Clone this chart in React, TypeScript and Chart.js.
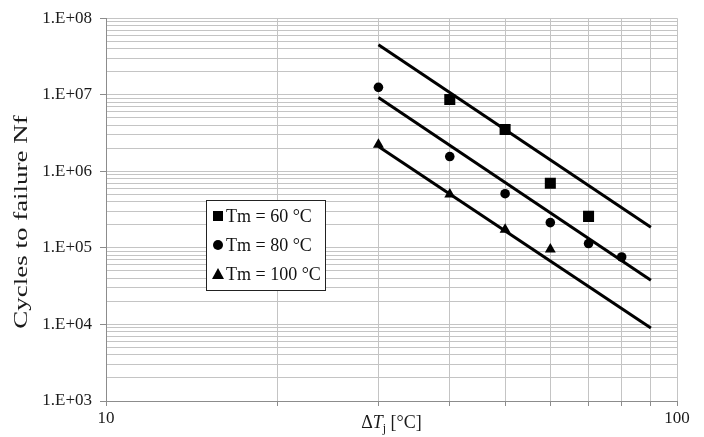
import React, { useEffect, useRef } from "react";
import { Chart, registerables } from "chart.js";

Chart.register(...registerables);

// ---- data ----
const xTickValues = [10, 20, 30, 40, 50, 60, 70, 80, 90, 100];
const xLabeledValues = [10, 100];
const xTickLabels = ["10", "100"];
const yDecades = [3, 4, 5, 6, 7, 8];
const yTickLabels = ["1.E+03", "1.E+04", "1.E+05", "1.E+06", "1.E+07", "1.E+08"];
const yMantissas = [1, 2, 3, 4, 5, 6, 7, 8, 9];
const yAxisTitle = "Cycles to failure Nf";

const seriesLabels = ["Tm = 60 °C", "Tm = 80 °C", "Tm = 100 °C"];
const tm60X = [40, 50, 60, 70];
const tm60Y = [8.65e6, 3.52e6, 7.0e5, 2.58e5];
const tm80X = [30, 40, 50, 60, 70, 80];
const tm80Y = [1.25e7, 1.56e6, 5.1e5, 2.14e5, 1.14e5, 7.6e4];
const tm100X = [30, 40, 50, 60];
const tm100Y = [2.24e6, 5.0e5, 1.73e5, 9.6e4];
const fitX = [30, 90];
const fit60Y = [4.5e7, 1.86e5];
const fit80Y = [9.2e6, 3.78e4];
const fit100Y = [2.11e6, 9.0e3];

const yTickValues: number[] = [];
yDecades.forEach((d, i) => {
  if (i === yDecades.length - 1) {
    yTickValues.push(Math.pow(10, d));
  } else {
    yMantissas.forEach((m) => yTickValues.push(m * Math.pow(10, d)));
  }
});

const pts = (xs: number[], ys: number[]) => xs.map((x, i) => ({ x, y: ys[i] }));
const isPow10 = (v: number) => yDecades.some((d) => Math.abs(Math.pow(10, d) - v) < v * 1e-6);

const SERIF = "'Liberation Serif', 'Times New Roman', serif";

const xTitlePlugin = {
  id: "xTitleCustom",
  afterDraw(chart: any) {
    const { ctx, chartArea } = chart;
    const cx = (chartArea.left + chartArea.right) / 2;
    const baseY = chartArea.bottom + 27;
    const parts = [
      { t: "Δ", f: `18px ${SERIF}`, dy: 0 },
      { t: "T", f: `italic 18px ${SERIF}`, dy: 0 },
      { t: "j", f: `12px ${SERIF}`, dy: 4 },
      { t: " [°C]", f: `18px ${SERIF}`, dy: 0 },
    ];
    ctx.save();
    ctx.fillStyle = "#1a1a1a";
    ctx.textBaseline = "alphabetic";
    ctx.textAlign = "left";
    let total = 0;
    const widths = parts.map((p) => {
      ctx.font = p.f;
      const w = ctx.measureText(p.t).width;
      total += w;
      return w;
    });
    let x = cx - total / 2;
    parts.forEach((p, i) => {
      ctx.font = p.f;
      ctx.fillText(p.t, x, baseY + p.dy);
      x += widths[i];
    });
    ctx.restore();
  },
};

const yTitlePlugin = {
  id: "yTitleCustom",
  afterDraw(chart: any) {
    const { ctx } = chart;
    ctx.save();
    ctx.translate(22, 222);
    ctx.rotate(-Math.PI / 2);
    ctx.scale(1.5, 1);
    ctx.font = `18px ${SERIF}`;
    ctx.fillStyle = "#1a1a1a";
    ctx.textAlign = "center";
    ctx.textBaseline = "middle";
    ctx.fillText(yAxisTitle, 0, 0);
    ctx.restore();
  },
};

const legendPlugin = {
  id: "boxLegend",
  afterDraw(chart: any) {
    const { ctx } = chart;
    const left = 206.5;
    const top = 200.5;
    const w = 119;
    const h = 90;
    ctx.save();
    ctx.fillStyle = "#ffffff";
    ctx.fillRect(left, top, w, h);
    ctx.strokeStyle = "#222222";
    ctx.lineWidth = 1;
    ctx.strokeRect(left, top, w, h);
    const rows = [216, 245, 274];
    const styles = ["rect", "circle", "triangle"];
    ctx.font = `18px ${SERIF}`;
    ctx.textBaseline = "middle";
    ctx.textAlign = "left";
    seriesLabels.forEach((lab, i) => {
      const y = rows[i];
      const mx = 218;
      ctx.fillStyle = "#000";
      ctx.beginPath();
      if (styles[i] === "rect") {
        ctx.rect(mx - 5, y - 5, 10, 10);
      } else if (styles[i] === "circle") {
        ctx.arc(mx, y, 5, 0, Math.PI * 2);
      } else {
        ctx.moveTo(mx, y - 6);
        ctx.lineTo(mx + 6, y + 5);
        ctx.lineTo(mx - 6, y + 5);
        ctx.closePath();
      }
      ctx.fill();
      ctx.fillStyle = "#111";
      ctx.fillText(lab, 226, y + 1);
    });
    ctx.restore();
  },
};

export default function App() {
  const ref = useRef<HTMLCanvasElement | null>(null);

  useEffect(() => {
    document.body.style.margin = "0";
    const canvas = ref.current;
    if (!canvas) return;
    const lineDs = (data: any) => ({
      type: "line" as const,
      data,
      showLine: true,
      borderColor: "#000",
      borderWidth: 3,
      pointRadius: 0,
      fill: false,
      order: 2,
    });
    const chart = new Chart(canvas, {
      type: "scatter",
      data: {
        datasets: [
          lineDs(pts(fitX, fit60Y)),
          lineDs(pts(fitX, fit80Y)),
          lineDs(pts(fitX, fit100Y)),
          {
            label: seriesLabels[0],
            data: pts(tm60X, tm60Y),
            pointStyle: "rect",
            pointRadius: 7.8,
            backgroundColor: "#000",
            borderWidth: 0,
            order: 1,
          },
          {
            label: seriesLabels[1],
            data: pts(tm80X, tm80Y),
            pointStyle: "circle",
            pointRadius: 4.8,
            backgroundColor: "#000",
            borderWidth: 0,
            order: 1,
          },
          {
            label: seriesLabels[2],
            data: pts(tm100X, tm100Y),
            pointStyle: "triangle",
            pointRadius: 6.3,
            backgroundColor: "#000",
            borderWidth: 0,
            order: 1,
          },
        ] as any,
      },
      options: {
        responsive: false,
        animation: false,
        devicePixelRatio: 1,
        layout: { padding: { left: 32, top: 17.5, right: 27, bottom: 0 } },
        plugins: {
          legend: { display: false },
          tooltip: { enabled: false },
        },
        scales: {
          x: {
            type: "logarithmic",
            min: 10,
            max: 100,
            afterBuildTicks: (scale: any) => {
              scale.ticks = xTickValues.map((v) => ({ value: v }));
            },
            afterFit: (scale: any) => {
              scale.height = 36;
            },
            ticks: {
              autoSkip: false,
              maxRotation: 0,
              padding: 2,
              color: "#1a1a1a",
              font: { family: SERIF, size: 17 },
              callback: (v: any) => {
                const i = xLabeledValues.indexOf(Number(v));
                return i >= 0 ? xTickLabels[i] : "";
              },
            },
            grid: {
              color: "#c4c4c4",
              lineWidth: 1,
              tickLength: 5,
              tickColor: "#8c8c8c",
            },
            border: { color: "#8c8c8c", width: 1 },
          },
          y: {
            type: "logarithmic",
            min: 1e3,
            max: 1e8,
            afterBuildTicks: (scale: any) => {
              scale.ticks = yTickValues.map((v) => ({ value: v, major: isPow10(v) }));
            },
            afterFit: (scale: any) => {
              scale.width = 74;
            },
            ticks: {
              autoSkip: false,
              padding: 8,
              color: "#1a1a1a",
              font: { family: SERIF, size: 17 },
              callback: (v: any) => {
                const val = Number(v);
                const i = yDecades.findIndex((d) => Math.abs(Math.pow(10, d) - val) < val * 1e-6);
                return i >= 0 ? yTickLabels[i] : "";
              },
            },
            grid: {
              color: "#c4c4c4",
              lineWidth: 1,
              tickLength: 6,
              tickColor: (c: any) => (c && c.tick && isPow10(c.tick.value) ? "#8c8c8c" : "rgba(0,0,0,0)"),
            },
            border: { color: "#8c8c8c", width: 1 },
          },
        },
      } as any,
      plugins: [xTitlePlugin, yTitlePlugin, legendPlugin],
    });
    return () => chart.destroy();
  }, []);

  return (
    <div style={{ width: 704, height: 437, background: "#fff" }}>
      <canvas ref={ref} width={704} height={437} style={{ display: "block" }} />
    </div>
  );
}
